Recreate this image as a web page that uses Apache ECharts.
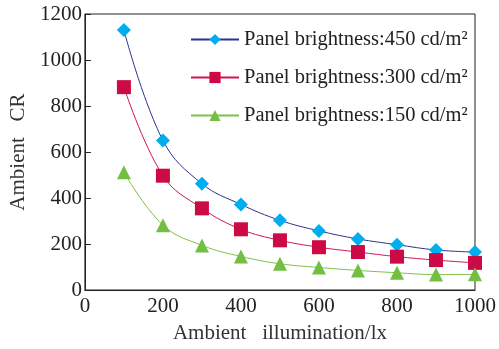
<!DOCTYPE html>
<html>
<head>
<meta charset="utf-8">
<script src="https://cdn.jsdelivr.net/npm/echarts@6/dist/echarts.min.js"></script>
<style>
  html, body { margin: 0; padding: 0; background: #fff; }
</style>
</head>
<body>
<div id="chart" style="width: 499px; height: 349px"></div>
<script>
const illumination = [100, 200, 300, 400, 500, 600, 700, 800, 900, 1000];
const cr450 = [1130, 650, 462, 372, 303, 257, 222, 197, 174, 165];
const cr300 = [882, 497, 355, 264, 216, 186, 165, 145, 130, 118];
const cr150 = [512, 282, 194, 146, 114, 98, 85, 75, 67, 68];
const seriesNames = [
  "Panel brightness:450 cd/m²",
  "Panel brightness:300 cd/m²",
  "Panel brightness:150 cd/m²",
];

const font = "'Liberation Serif', 'DejaVu Serif', serif";
const chart = echarts.init(document.getElementById("chart"));

const makeSeries = (name, values, symbol, size, lineColor, markColor) => ({
  name: name,
  type: "line",
  smooth: 0.4,
  symbol: symbol,
  symbolSize: size,
  lineStyle: { color: lineColor, width: 1 },
  itemStyle: { color: markColor },
  data: illumination.map((x, i) => [x, values[i]]),
});

const option = {
  animation: false,
  backgroundColor: "#fff",
  textStyle: { fontFamily: font },
  grid: {
    left: 80,
    right: 19,
    top: 14,
    bottom: 48,
    show: true,
    borderColor: "#222",
    borderWidth: 1,
  },
  legend: {
    orient: "vertical",
    left: 185,
    top: 24,
    itemGap: 17,
    itemWidth: 48,
    itemHeight: 14,
    textStyle: { fontFamily: font, fontSize: 20.5, color: "#222" },
    data: seriesNames,
  },
  xAxis: {
    type: "value",
    min: 0,
    max: 1000,
    interval: 200,
    name: "Ambient   illumination/lx",
    nameLocation: "middle",
    nameGap: 33,
    nameTextStyle: { fontFamily: font, fontSize: 21, color: "#333" },
    axisLine: { lineStyle: { color: "#222" } },
    axisTick: { show: false },
    splitLine: { show: false },
    axisLabel: {
      fontFamily: font,
      fontSize: 21,
      color: "#222",
      margin: 6,
      formatter: (v) => String(v),
    },
  },
  yAxis: {
    type: "value",
    min: 0,
    max: 1200,
    interval: 200,
    name: "Ambient   CR",
    nameLocation: "middle",
    nameGap: 52,
    nameTextStyle: { fontFamily: font, fontSize: 21, color: "#333" },
    axisLine: { lineStyle: { color: "#222" } },
    axisTick: { inside: true, length: 6, lineStyle: { color: "#222" } },
    splitLine: { show: false },
    axisLabel: {
      fontFamily: font,
      fontSize: 21,
      color: "#222",
      margin: 3,
      formatter: (v) => String(v),
    },
  },
  series: [
    makeSeries(seriesNames[0], cr450, "diamond", 14, "#2e3192", "#00aeef"),
    makeSeries(seriesNames[1], cr300, "rect", 14, "#d4145a", "#cc0a45"),
    makeSeries(seriesNames[2], cr150, "triangle", 14, "#7dc242", "#72bf44"),
  ],
};
chart.setOption(option);
</script>
</body>
</html>
